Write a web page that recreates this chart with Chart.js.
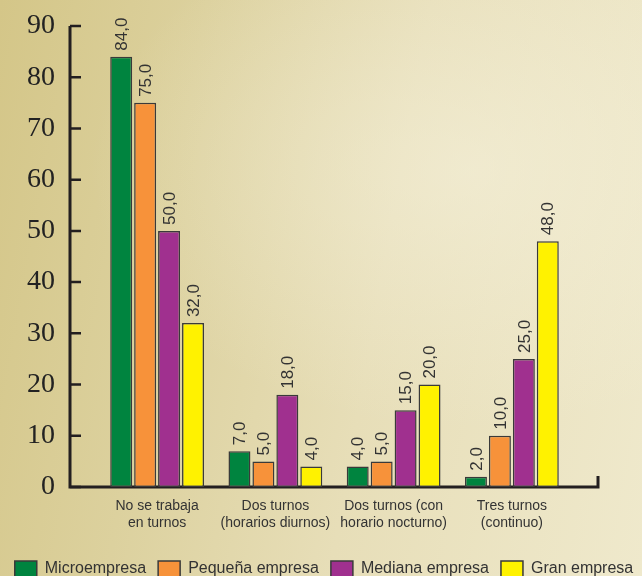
<!DOCTYPE html>
<html lang="es">
<head>
<meta charset="UTF-8">
<meta name="viewport" content="width=device-width, initial-scale=1.0">
<title>Trabajo en turnos según tamaño de empresa</title>
<script src="https://cdn.jsdelivr.net/npm/chart.js"></script>
<style>
    html, body { margin: 0; padding: 0; width: 642px; height: 576px; overflow: hidden; }
    body {
        background:
            radial-gradient(ellipse 380px 260px at 470px 170px, rgba(246, 242, 222, 0.55), rgba(246, 242, 222, 0) 100%),
            linear-gradient(100deg, #d4c688 0%, #dcd19e 28%, #e7deb8 58%, #efe9cc 100%);
    }
    .grafico { position: relative; width: 648px; height: 587px; }
</style>
</head>
<body>
<div class="grafico">
    <canvas id="turnosChart"></canvas>
</div>

<script>
    // Porcentaje de empresas según régimen de turnos
    const categorias = [
        ['No se trabaja', 'en turnos'],
        ['Dos turnos', '(horarios diurnos)'],
        ['Dos turnos (con', 'horario nocturno)'],
        ['Tres turnos', '(continuo)']
    ];
    const microempresa = [84, 7, 4, 2];
    const pequenaEmpresa = [75, 5, 5, 10];
    const medianaEmpresa = [50, 18, 15, 25];
    const granEmpresa = [32, 4, 20, 48];

    const yMin = 0;
    const yMax = 90;
    const yPaso = 10;

    const TINTA = '#231f20';
    const fmt = v => v.toFixed(1).replace('.', ',');

    // Ejes dibujados a mano: el eje Y queda separado del primer grupo de barras
    const ejes = {
        id: 'ejes',
        beforeDatasetsDraw(chart) {
            const { ctx, chartArea: a, scales: { y } } = chart;
            const x0 = a.left - 28;
            const x1 = a.right + 27;
            const y0 = y.getPixelForValue(yMin);
            ctx.save();
            ctx.strokeStyle = TINTA;
            ctx.lineWidth = 3;
            ctx.beginPath();
            ctx.moveTo(x0, y.getPixelForValue(yMax));
            ctx.lineTo(x0, y0 + 1.5);
            ctx.moveTo(x0 - 1.5, y0);
            ctx.lineTo(x1 + 1.5, y0);
            ctx.moveTo(x1, y0 + 1.5);
            ctx.lineTo(x1, y0 - 11);
            ctx.stroke();
            ctx.lineWidth = 2.5;
            ctx.beginPath();
            y.ticks.forEach(t => {
                const py = y.getPixelForValue(t.value);
                ctx.moveTo(x0, py);
                ctx.lineTo(x0 + 11, py);
            });
            ctx.stroke();
            ctx.restore();
        }
    };

    // Valores verticales sobre cada barra
    const valores = {
        id: 'valores',
        afterDatasetsDraw(chart) {
            const { ctx } = chart;
            ctx.save();
            ctx.fillStyle = '#333';
            ctx.font = '17px "Liberation Sans", Arial, sans-serif';
            ctx.textAlign = 'left';
            ctx.textBaseline = 'middle';
            chart.data.datasets.forEach((ds, i) => {
                chart.getDatasetMeta(i).data.forEach((bar, j) => {
                    ctx.save();
                    ctx.translate(bar.x + 1, bar.y - 6);
                    ctx.rotate(-Math.PI / 2);
                    ctx.fillText(fmt(ds.data[j]), 0, 0);
                    ctx.restore();
                });
            });
            ctx.restore();
        }
    };

    const serie = (label, data, color) => ({
        label,
        data,
        backgroundColor: color,
        borderColor: '#3a3a3a',
        borderWidth: 1.5,
        borderSkipped: false,
        categoryPercentage: 0.81,
        barPercentage: 0.917
    });

    new Chart(document.getElementById('turnosChart'), {
        type: 'bar',
        data: {
            labels: categorias,
            datasets: [
                serie('Microempresa', microempresa, '#00843f'),
                serie('Pequeña empresa', pequenaEmpresa, '#f7923a'),
                serie('Mediana empresa', medianaEmpresa, '#a0308f'),
                serie('Gran empresa', granEmpresa, '#fff200')
            ]
        },
        options: {
            responsive: true,
            maintainAspectRatio: false,
            animation: false,
            layout: { padding: { top: 26 } },
            plugins: {
                tooltip: { enabled: false },
                legend: {
                    position: 'bottom',
                    labels: {
                        boxWidth: 22,
                        boxHeight: 16,
                        padding: 12,
                        color: '#333',
                        font: { family: '"Liberation Sans", Arial, sans-serif', size: 16 }
                    }
                }
            },
            scales: {
                x: {
                    grid: { display: false, drawTicks: false },
                    border: { display: false },
                    ticks: {
                        color: '#333',
                        padding: 11,
                        font: { family: '"Liberation Sans", Arial, sans-serif', size: 14, lineHeight: 1.18 }
                    },
                    afterFit(scale) { scale.height = 62; }
                },
                y: {
                    min: yMin,
                    max: yMax,
                    grid: { display: false, drawTicks: false },
                    border: { display: false },
                    ticks: {
                        stepSize: yPaso,
                        color: '#222',
                        padding: 43,
                        font: { family: '"Liberation Serif", "Times New Roman", serif', size: 28 }
                    },
                    afterFit(scale) {
                        scale.width = 98;
                        scale.paddingTop = 0;
                        scale.paddingBottom = 0;
                    }
                },
                margen: {
                    position: 'right',
                    grid: { display: false, drawTicks: false },
                    border: { display: false },
                    ticks: { display: false },
                    afterFit(scale) {
                        scale.width = 648 - 571;
                        scale.paddingTop = 0;
                        scale.paddingBottom = 0;
                    }
                }
            }
        },
        plugins: [ejes, valores]
    });
</script>
</body>
</html>
